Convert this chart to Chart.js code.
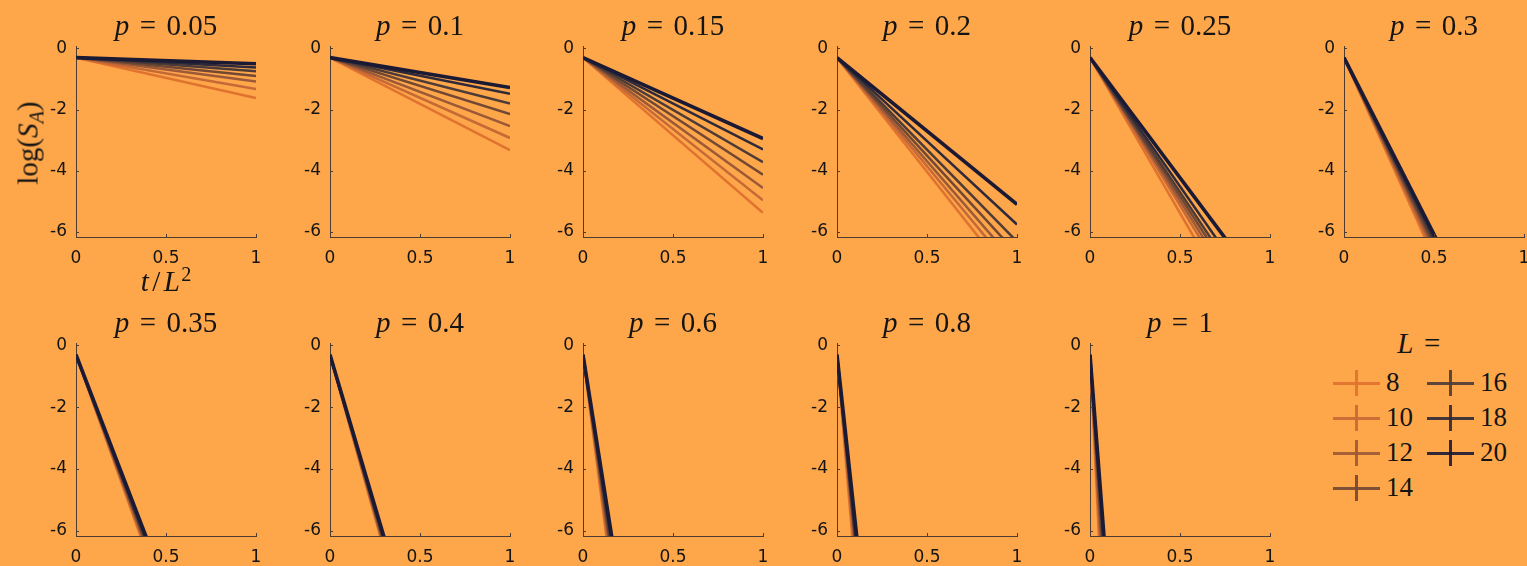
<!DOCTYPE html>
<html>
<head>
<meta charset="utf-8">
<script src="https://cdn.jsdelivr.net/npm/chart.js@4.4.1/dist/chart.umd.min.js"></script>
<style>
  body { margin: 0; background: #fea64a; width: 1527px; height: 566px; overflow: hidden; position: relative;
         font-family: "Liberation Serif", serif; color: #141414; }
  canvas { position: absolute; }
  .lbl { position: absolute; white-space: nowrap; transform: translate(-50%, -50%); line-height: 1; font-size: 29px; }
  .lbl i { font-style: italic; }
  .eq { margin: 0 0.36em; }
  .sl { margin: 0 0.12em; }
  .ylab { transform: translate(-50%, -50%) rotate(-90deg); font-size: 29px; }
  .sub { font-size: 70%; position: relative; top: 0.3em; }
  .sup { font-size: 70%; position: relative; top: -0.5em; margin-left: 0.06em; }
  .item { position: absolute; height: 26px; width: 90px; }
  .item .h { position: absolute; left: 0; top: 12px; width: 47px; height: 3px; opacity: 0.9; }
  .item .v { position: absolute; left: 22px; top: 0; width: 2.5px; height: 26px; opacity: 0.9; }
  .item span { position: absolute; left: 53px; top: -1px; font-size: 27px; line-height: 1; }
</style>
</head>
<body>
<script>
// panels: one per p, lines for each system size L
const pValues = [0.05, 0.1, 0.15, 0.2, 0.25, 0.3, 0.35, 0.4, 0.6, 0.8, 1];
const sizes = [8, 10, 12, 14, 16, 18, 20];
const startLog = -0.3;

// t/L^2 where each curve ends (1, or where it leaves the box) and log(S_A) there
const endT = [
  [1, 1, 1, 1, 1, 1, 1],
  [1, 1, 1, 1, 1, 1, 1],
  [1, 1, 1, 1, 1, 1, 1],
  [0.79, 0.83, 0.87, 0.92, 0.98, 1, 1],
  [0.58, 0.61, 0.63, 0.65, 0.67, 0.70, 0.75],
  [0.45, 0.46, 0.47, 0.48, 0.49, 0.50, 0.51],
  [0.36, 0.365, 0.37, 0.375, 0.38, 0.385, 0.39],
  [0.28, 0.283, 0.286, 0.29, 0.293, 0.296, 0.30],
  [0.13, 0.135, 0.14, 0.145, 0.15, 0.155, 0.16],
  [0.085, 0.09, 0.095, 0.1, 0.1, 0.105, 0.11],
  [0.05, 0.055, 0.06, 0.065, 0.07, 0.075, 0.078]
];
const endLog = [
  [-1.62, -1.33, -1.08, -0.9, -0.75, -0.62, -0.5],
  [-3.33, -2.93, -2.54, -2.15, -1.8, -1.48, -1.28],
  [-5.38, -4.97, -4.57, -4.13, -3.72, -3.3, -2.95],
  [-6.2, -6.2, -6.2, -6.2, -6.2, -5.76, -5.1],
  [-6.2, -6.2, -6.2, -6.2, -6.2, -6.2, -6.2],
  [-6.2, -6.2, -6.2, -6.2, -6.2, -6.2, -6.2],
  [-6.2, -6.2, -6.2, -6.2, -6.2, -6.2, -6.2],
  [-6.2, -6.2, -6.2, -6.2, -6.2, -6.2, -6.2],
  [-6.2, -6.2, -6.2, -6.2, -6.2, -6.2, -6.2],
  [-6.2, -6.2, -6.2, -6.2, -6.2, -6.2, -6.2],
  [-6.2, -6.2, -6.2, -6.2, -6.2, -6.2, -6.2]
];

const xTicks = [0, 0.5, 1];
const yTicks = [-6, -4, -2, 0];
const lineColors = ['#e0722f', '#c56936', '#9c5937', '#724733', '#4d3b37', '#2f2a3a', '#1a1a35'];

const axisColor = '#4e3c30';
const colX = [76, 330, 583, 837, 1090, 1344];
const rowTop = [46, 343];
const rowH = [191, 193];
const titleY = [25, 322];

// small inward tick marks like the original
const innerTicks = {
  id: 'innerTicks',
  afterDraw(chart) {
    const { ctx, chartArea, scales } = chart;
    ctx.save();
    ctx.strokeStyle = axisColor;
    ctx.lineWidth = 1;
    ctx.beginPath();
    xTicks.forEach(v => {
      const px = Math.round(scales.x.getPixelForValue(v)) + 0.5;
      ctx.moveTo(px, chartArea.bottom); ctx.lineTo(px, chartArea.bottom - 3);
    });
    yTicks.forEach(v => {
      const py = Math.round(scales.y.getPixelForValue(v)) + 0.5;
      ctx.moveTo(chartArea.left, py); ctx.lineTo(chartArea.left + 3, py);
    });
    ctx.stroke();
    ctx.restore();
  }
};

function addLabel(html, x, y, cls) {
  const d = document.createElement('div');
  d.className = 'lbl' + (cls ? ' ' + cls : '');
  d.innerHTML = html;
  d.style.left = x + 'px';
  d.style.top = y + 'px';
  document.body.appendChild(d);
}

const tickFont = { family: 'DejaVu Sans', size: 17 };

pValues.forEach((p, i) => {
  const row = i < 6 ? 0 : 1;
  const col = row === 0 ? i : i - 6;
  const ax = colX[col];
  const h = 25 + rowH[row] + 35;

  const cv = document.createElement('canvas');
  cv.width = 260; cv.height = h;
  cv.style.left = (ax - 50) + 'px';
  cv.style.top = (rowTop[row] - 25) + 'px';
  document.body.appendChild(cv);

  const datasets = sizes.map((L, j) => ({
    label: 'L = ' + L,
    data: [{ x: 0, y: startLog }, { x: endT[i][j], y: endLog[i][j] }],
    borderColor: lineColors[j],
    borderWidth: j === 6 ? 3.6 : 2.5,
    pointRadius: 0,
    clip: 0,
    order: sizes.length - j
  }));

  new Chart(cv, {
    type: 'line',
    data: { datasets },
    options: {
      responsive: false,
      animation: false,
      layout: { padding: { left: 0, right: 30, top: 25, bottom: 0 } },
      plugins: { legend: { display: false }, tooltip: { enabled: false } },
      scales: {
        x: {
          type: 'linear', min: 0, max: 1,
          afterBuildTicks: s => { s.ticks = xTicks.map(v => ({ value: v })); },
          afterFit: s => { s.height = 35; },
          grid: { display: false, drawTicks: false },
          border: { display: true, color: axisColor, width: 1 },
          ticks: { autoSkip: false, maxRotation: 0, padding: 11, color: '#141414', font: tickFont,
                   callback: v => String(v) }
        },
        y: {
          type: 'linear', min: -6.17, max: 0.08,
          afterBuildTicks: s => { s.ticks = yTicks.map(v => ({ value: v })); },
          afterFit: s => { s.width = 50; },
          grid: { display: false, drawTicks: false },
          border: { display: true, color: axisColor, width: 1 },
          ticks: { padding: 9, color: '#141414', font: tickFont, callback: v => String(v) }
        }
      }
    },
    plugins: [innerTicks]
  });

  addLabel('<i>p</i><span class="eq">=</span>' + p, ax + 90, titleY[row]);
});

addLabel('log(<i>S</i><span class="sub"><i>A</i></span>)', 28, 143, 'ylab');
addLabel('<i>t</i><span class="sl">/</span><i>L</i><span class="sup">2</span>', 166, 281);

// legend
addLabel('<i>L</i><span class="eq">=</span>', 1424, 343);
const legendPos = [[1333, 383], [1333, 418], [1333, 453], [1333, 488], [1427, 383], [1427, 418], [1427, 453]];
sizes.forEach((L, j) => {
  const it = document.createElement('div');
  it.className = 'item';
  it.style.left = legendPos[j][0] + 'px';
  it.style.top = (legendPos[j][1] - 13) + 'px';
  it.innerHTML = '<div class="h" style="background:' + lineColors[j] + '"></div>' +
                 '<div class="v" style="background:' + lineColors[j] + '"></div><span>' + L + '</span>';
  document.body.appendChild(it);
});
</script>
</body>
</html>
